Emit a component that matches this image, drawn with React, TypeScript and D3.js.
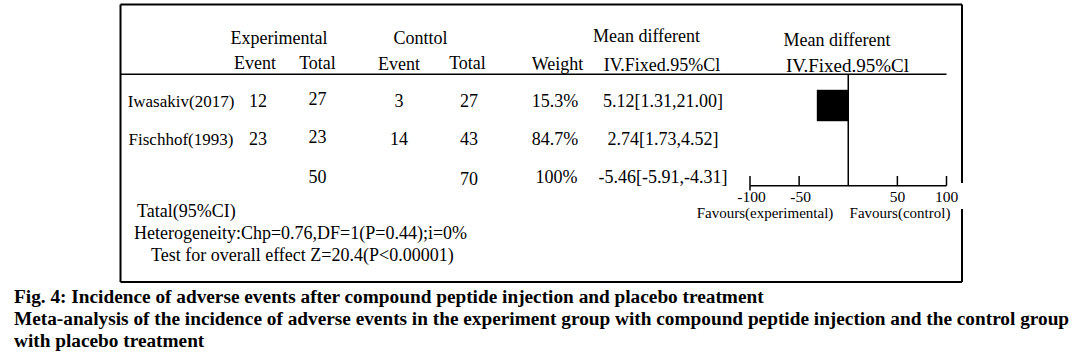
import React from "react";
import * as d3 from "d3";

const studies = ["Iwasakiv(2017)", "Fischhof(1993)"];
const expEvents = ["12", "23"];
const expTotals = ["27", "23"];
const ctrlEvents = ["3", "14"];
const ctrlTotals = ["27", "43"];
const weights = ["15.3%", "84.7%"];
const meanDiffs = ["5.12[1.31,21.00]", "2.74[1.73,4.52]"];
const totalExp = "50";
const totalCtrl = "70";
const totalWeight = "100%";
const totalMeanDiff = "-5.46[-5.91,-4.31]";
const axisTicks = [-100, -50, 50, 100];
// square marker drawn on the plot (data units), first study only
const squareSpan = [-32, 0];
const footerLines = [
  "Tatal(95%CI)",
  "Heterogeneity:Chp=0.76,DF=1(P=0.44);i=0%",
  "Test for overall effect Z=20.4(P<0.00001)",
];
const captionLines = [
  "Fig. 4: Incidence of adverse events after compound peptide injection and placebo treatment",
  "Meta-analysis of the incidence of adverse events in the experiment group with compound peptide injection and the control group",
  "with placebo treatment",
];

const W = 1083;
const H = 356;
const FONT = "'Liberation Serif', 'Times New Roman', serif";

export default function App() {
  const x = d3.scaleLinear().domain([-100, 100]).range([750, 946.5]);
  const rowY = d3.scalePoint<number>().domain([0, 1, 2]).range([106.5, 183]);
  const boxL = 120.5, boxT = 4.5, boxR = 962, boxB = 282;
  const headerLineY = 74.3;
  const axisY = 185.7;

  const cols = { name: 181, ee: 258, et: 317.5, ce: 399, ct: 469, w: 555, md: 663 };
  const fs = 18;
  const t = (txt: string, cx: number, y: number, opts: any = {}) => (
    <text x={cx} y={y} textAnchor={opts.anchor || "middle"} fontSize={opts.size || fs}
      fontFamily={FONT} fill="#000" fontWeight={opts.weight || "normal"}>{txt}</text>
  );

  const sqH = x(squareSpan[1]) - x(squareSpan[0]);

  return (
    <svg width={W} height={H} style={{ position: "absolute", left: 0, top: 0, background: "#fff" }}>
      {/* Box */}
      <g stroke="#000" strokeWidth={2} fill="none">
        <line x1={boxL} y1={boxT} x2={boxR} y2={boxT} />
        <line x1={boxL} y1={boxT} x2={boxL} y2={boxB} />
        <line x1={boxL} y1={boxB} x2={boxR} y2={boxB} />
        <line x1={boxR} y1={boxT} x2={boxR} y2={183} />
        <line x1={boxR} y1={209} x2={boxR} y2={boxB} />
      </g>
      <line x1={boxL} y1={headerLineY} x2={946.5} y2={headerLineY} stroke="#000" strokeWidth={1.5} />

      {/* headers */}
      {t("Experimental", 279, 43.5)}
      {t("Conttol", 420.5, 43.5)}
      {t("Mean different", 646.5, 42)}
      {t("Mean different", 837, 45.5)}
      {t("Event", 255, 69)}
      {t("Total", 317.5, 69)}
      {t("Event", 399, 70)}
      {t("Total", 467.5, 69)}
      {t("Weight", 557.5, 69.5)}
      {t("IV.Fixed.95%Cl", 662, 70.5)}
      {t("IV.Fixed.95%Cl", 847.5, 72, { size: 19 })}

      {/* study rows */}
      {studies.map((s, i) => (
        <g key={s}>
          {t(s, cols.name, rowY(i)!, { size: 17 })}
          {t(expEvents[i], cols.ee, rowY(i)!)}
          {t(expTotals[i], cols.et, rowY(i)! - 1.5)}
          {t(ctrlEvents[i], cols.ce, rowY(i)!)}
          {t(ctrlTotals[i], cols.ct, rowY(i)!)}
          {t(weights[i], cols.w, rowY(i)!)}
          {t(meanDiffs[i], cols.md, rowY(i)!)}
        </g>
      ))}
      {/* total row */}
      {t(totalExp, cols.et, rowY(2)!)}
      {t(totalCtrl, cols.ct, rowY(2)! + 1.5)}
      {t(totalWeight, cols.w + 1.5, rowY(2)!)}
      {t(totalMeanDiff, cols.md, rowY(2)!)}

      {/* footer */}
      {t(footerLines[0], 137, 216.7, { anchor: "start" })}
      {t(footerLines[1], 134, 239, { anchor: "start" })}
      {t(footerLines[2], 151, 260.7, { anchor: "start" })}

      {/* plot */}
      <rect x={x(squareSpan[0])} y={rowY(0)! - 1 - sqH / 2} width={sqH} height={sqH} fill="#000" />
      <line x1={x(0)} y1={headerLineY} x2={x(0)} y2={axisY} stroke="#000" strokeWidth={1.5} />
      <line x1={x(-100)} y1={axisY} x2={x(100)} y2={axisY} stroke="#000" strokeWidth={1.5} />
      {axisTicks.map((v) => (
        <g key={v}>
          <line x1={x(v)} y1={176} x2={x(v)} y2={v === -100 ? 190.5 : axisY} stroke="#000" strokeWidth={1.5} />
          {t(String(v), x(v) + (v < 0 ? 1.5 : 0), 201.7, { size: 15.5 })}
        </g>
      ))}
      {t("Favours(experimental)", 765, 218, { size: 15 })}
      {t("Favours(control)", 900, 218, { size: 15 })}

      {/* caption */}
      {captionLines.map((c, i) => (
        <text key={i} x={14} y={302.5 + i * 22.2} fontSize={19.3} fontWeight="bold" fontFamily={FONT} fill="#000">{c}</text>
      ))}
    </svg>
  );
}
